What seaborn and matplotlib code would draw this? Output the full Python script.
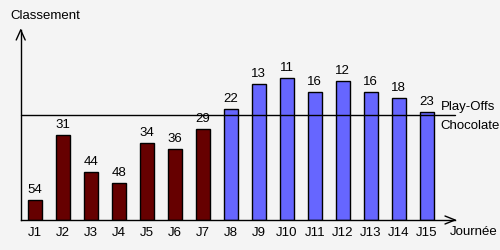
import matplotlib
matplotlib.use("Agg")
import matplotlib.pyplot as plt
from matplotlib.lines import Line2D
import seaborn as sns
import pandas as pd

# ---- data ----
journees = ["J1", "J2", "J3", "J4", "J5", "J6", "J7", "J8",
            "J9", "J10", "J11", "J12", "J13", "J14", "J15"]
classement = [54, 31, 44, 48, 34, 36, 29, 22, 13, 11, 16, 12, 16, 18, 23]
phase = ["aller"] * 7 + ["retour"] * 8
base_rank = 61          # rank drawn at the axis baseline
playoff_rank = 24       # separation Play-Offs / Chocolate
colors = {"aller": "#660000", "retour": "#6666ff"}

df = pd.DataFrame({"journee": journees, "classement": classement, "phase": phase})
df["hauteur"] = base_rank - df["classement"]

sns.set_theme(style="white")
plt.rcParams["font.family"] = ["Liberation Sans", "DejaVu Sans"]
FS = 9.5
TXT = "#000000"
BG = "#f4f4f4"

W, H = 500, 250
fig = plt.figure(figsize=(5, 2.5), dpi=100, facecolor=BG)
x0, x1, ytop, ybot = 20.7, 455, 30, 220
ax = fig.add_axes([x0 / W, 1 - ybot / H, (x1 - x0) / W, (ybot - ytop) / H])
ax.set_facecolor(BG)

sns.barplot(data=df, x="journee", y="hauteur", hue="phase", palette=colors,
            order=journees, dodge=False, width=0.5, legend=False,
            edgecolor="black", linewidth=1, ax=ax, saturation=1)

px_per_cat = 28
ax.set_xlim(-0.5, -0.5 + (x1 - x0) / px_per_cat)
ax.set_ylim(0, (ybot - ytop) / 2.837)

# value labels
for p in ax.patches:
    if p.get_height() <= 0:
        continue
    cx = p.get_x() + p.get_width() / 2
    i = int(round(cx))
    ax.annotate(str(classement[i]), (cx, p.get_height()), xytext=(0, 3),
                textcoords="offset points", ha="center", va="bottom",
                fontsize=FS, color=TXT)

# play-off line
ax.axhline(base_rank - playoff_rank, color="black", lw=1, clip_on=False)
ax.annotate("Play-Offs", (1, base_rank - playoff_rank), xycoords=("axes fraction", "data"),
            xytext=(-14.5, 2.5), textcoords="offset pixels", ha="left", va="bottom",
            fontsize=FS, color=TXT, annotation_clip=False)
ax.annotate("Chocolate", (1, base_rank - playoff_rank), xycoords=("axes fraction", "data"),
            xytext=(-14.5, -4.5), textcoords="offset pixels", ha="left", va="top",
            fontsize=FS, color=TXT, annotation_clip=False)

# axes styling
for s in ["top", "right"]:
    ax.spines[s].set_visible(False)
for s in ["left", "bottom"]:
    ax.spines[s].set_color("black")
    ax.spines[s].set_linewidth(1)
ax.set_yticks([])
ax.set_xlabel("")
ax.set_ylabel("")
ax.set_xticks(range(len(journees)))
ax.set_xticklabels(journees, fontsize=FS, color=TXT)
ax.tick_params(axis="x", which="major", length=0, pad=5)
ax.set_xticks([i - 0.5 for i in range(len(journees))], minor=True)
ax.tick_params(axis="x", which="minor", length=7, width=1, color="black", direction="out")

def P(x, y):
    return x / W, 1 - y / H

def seg(a, b):
    (xa, ya), (xb, yb) = P(*a), P(*b)
    fig.add_artist(Line2D([xa, xb], [ya, yb], color="black", lw=1, transform=fig.transFigure))

# arrowheads
seg((x0, ytop), (x0 - 4.5, ytop + 10))
seg((x0, ytop), (x0 + 4.5, ytop + 10))
seg((x1, ybot), (x1 - 10, ybot - 4))
seg((x1, ybot), (x1 - 10, ybot + 4))

fig.text(*P(10.5, 16), "Classement", ha="left", va="center", fontsize=FS, color=TXT)
fig.text(*P(450, 232), "Journée", ha="left", va="center", fontsize=FS, color=TXT)

fig.savefig("out.png", dpi=100, facecolor=BG)
